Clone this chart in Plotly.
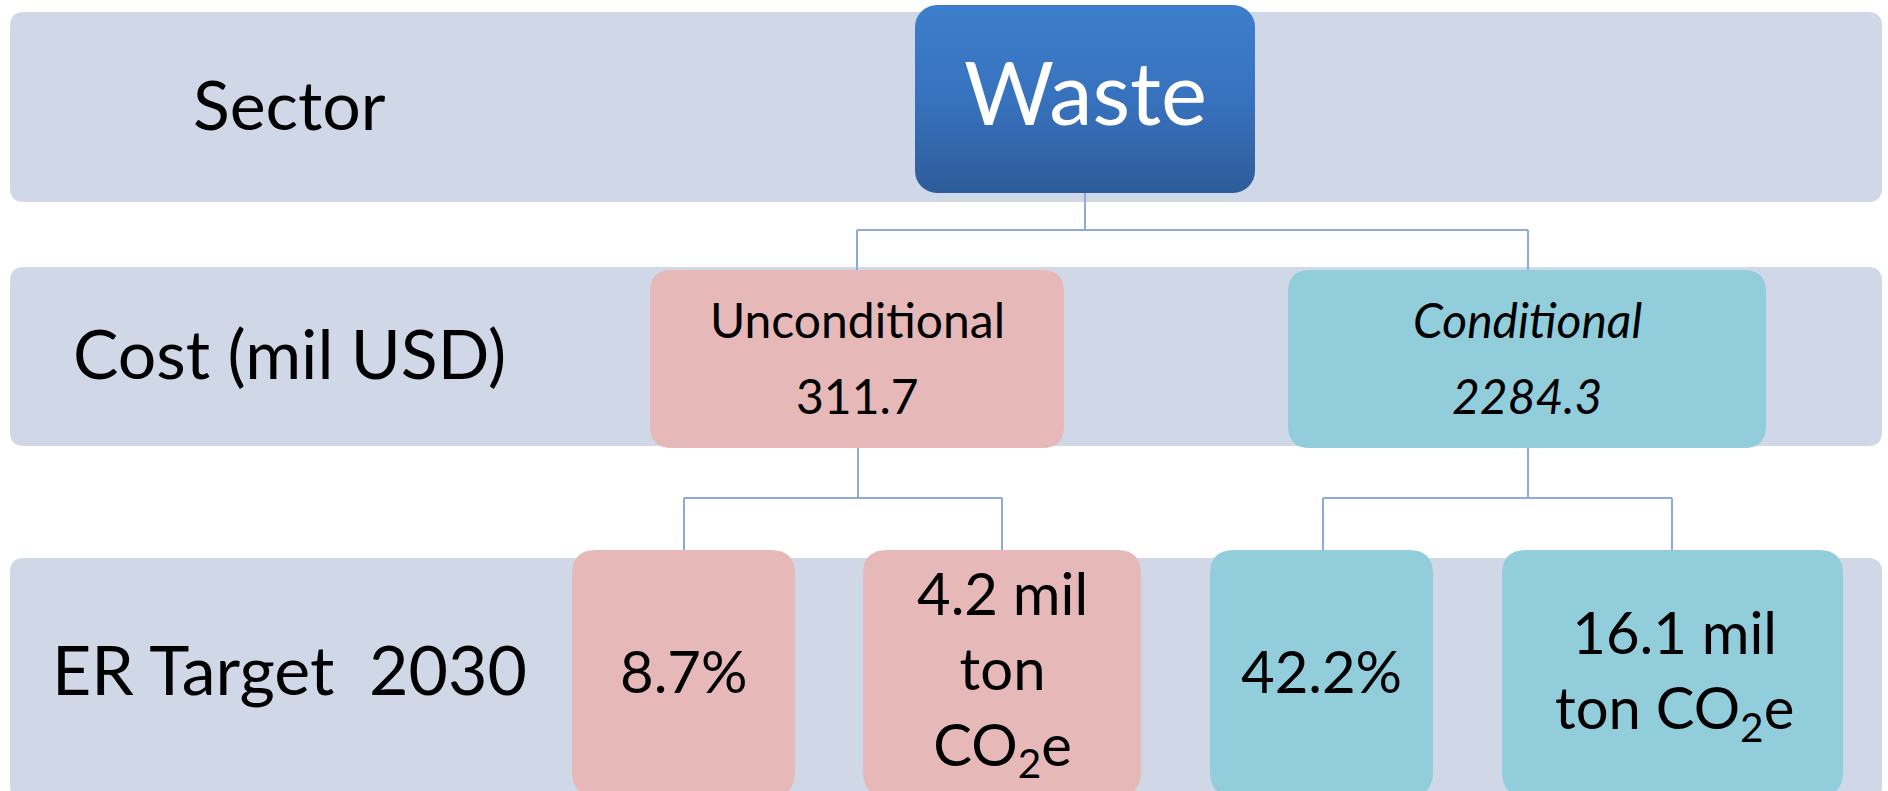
import plotly.graph_objects as go
import base64

# ---- data ----
row_labels = ["Sector", "Cost (mil USD)", "ER Target\u00a0 2030"]
sector_name = "Waste"
categories = ["Unconditional", "Conditional"]
costs = ["311.7", "2284.3"]
er_percent = ["8.7%", "42.2%"]
er_amount = ["4.2 mil<br>ton<br>CO<sub>2</sub>e", "16.1 mil<br>ton CO<sub>2</sub>e"]

W, H = 1888, 791
BAND = "#D0D8E8"
PINK = "#E6B8B7"
BLUE = "#92CDDC"
LINE = "#8EAADB"
FONT = "Lato"

def rr(x0, y0, x1, y1, r):
    return (f"M {x0+r},{y0} L {x1-r},{y0} Q {x1},{y0} {x1},{y0+r} "
            f"L {x1},{y1-r} Q {x1},{y1} {x1-r},{y1} L {x0+r},{y1} "
            f"Q {x0},{y1} {x0},{y1-r} L {x0},{y0+r} Q {x0},{y0} {x0+r},{y0} Z")

shapes = []
def box(x0, y0, x1, y1, r, color):
    shapes.append(dict(type="path", path=rr(x0, y0, x1, y1, r), xref="x", yref="y",
                       fillcolor=color, line=dict(width=0), layer="below"))

def seg(x0, y0, x1, y1):
    shapes.append(dict(type="line", x0=x0, y0=y0, x1=x1, y1=y1, xref="x", yref="y",
                       line=dict(color=LINE, width=2), layer="below"))

# row bands
box(10, 12, 1882, 202, 14, BAND)
box(10, 267, 1882, 446, 14, BAND)
box(10, 558, 1882, 800, 14, BAND)

# connectors
seg(1085, 193, 1085, 230)
seg(857, 230, 1528, 230)
seg(857, 230, 857, 270)
seg(1528, 230, 1528, 270)
seg(858, 448, 858, 498)
seg(684, 498, 1002, 498)
seg(684, 498, 684, 552)
seg(1002, 498, 1002, 552)
seg(1528, 448, 1528, 498)
seg(1323, 498, 1672, 498)
seg(1323, 498, 1323, 552)
seg(1672, 498, 1672, 552)

# category boxes
cat_boxes = [(650, 270, 1064, 448), (1288, 270, 1766, 448)]
cat_colors = [PINK, BLUE]
for (x0, y0, x1, y1), c in zip(cat_boxes, cat_colors):
    box(x0, y0, x1, y1, 22, c)

# ER boxes
er_boxes = [(572, 550, 795, 796), (863, 550, 1141, 796),
            (1210, 550, 1433, 796), (1502, 550, 1843, 796)]
er_colors = [PINK, PINK, BLUE, BLUE]
for (x0, y0, x1, y1), c in zip(er_boxes, er_colors):
    box(x0, y0, x1, y1, 24, c)

# waste box with gradient (svg image)
wx0, wy0, wx1, wy1 = 915, 5, 1255, 193
svg = (f'<svg xmlns="http://www.w3.org/2000/svg" width="{wx1-wx0}" height="{wy1-wy0}" '
       f'viewBox="0 0 {wx1-wx0} {wy1-wy0}">'
       '<defs><linearGradient id="g" x1="0" y1="0" x2="0" y2="1">'
       '<stop offset="0" stop-color="#3C7ECB"/><stop offset="0.5" stop-color="#3872BE"/>'
       '<stop offset="1" stop-color="#2D5C99"/></linearGradient></defs>'
       f'<rect x="0" y="0" width="{wx1-wx0}" height="{wy1-wy0}" rx="22" ry="22" fill="url(#g)"/></svg>')
src = "data:image/svg+xml;base64," + base64.b64encode(svg.encode()).decode()
images = [dict(source=src, xref="x", yref="y", x=wx0, y=wy0, sizex=wx1-wx0, sizey=wy1-wy0,
               xanchor="left", yanchor="top", sizing="stretch", layer="above")]

annotations = []
def txt(x, y, t, size, color="black"):
    annotations.append(dict(x=x, y=y, xref="x", yref="y", text=t, showarrow=False,
                            xanchor="center", yanchor="middle",
                            font=dict(family=FONT, size=size, color=color)))

# row labels
for lab, y in zip(row_labels, [103, 352, 668]):
    txt(289, y, lab, 68)

txt(1085, 91, sector_name, 87, "white")

# categories + costs
for i, ((x0, y0, x1, y1), cat, cost) in enumerate(zip(cat_boxes, categories, costs)):
    cx = (x0 + x1) / 2
    if i == 1:
        cat_t, cost_t = f"<i>{cat}</i>", f"<i>{cost}</i>"
    else:
        cat_t, cost_t = cat, cost
    txt(cx, 319, cat_t, 48)
    txt(cx, 395, cost_t, 48)

# ER targets
pct_boxes = [er_boxes[0], er_boxes[2]]
amt_boxes = [er_boxes[1], er_boxes[3]]
for (x0, y0, x1, y1), p in zip(pct_boxes, er_percent):
    txt((x0 + x1) / 2, 670, p, 58)
for (x0, y0, x1, y1), a, yc in zip(amt_boxes, er_amount, [672, 674]):
    txt((x0 + x1) / 2 + (0 if yc == 672 else 2), yc, a, 58)

fig = go.Figure()
fig.add_trace(go.Scatter(x=[0, W], y=[0, H], mode="markers", marker=dict(opacity=0),
                         hoverinfo="skip", showlegend=False))
fig.update_layout(
    width=W, height=H, margin=dict(l=0, r=0, t=0, b=0),
    paper_bgcolor="white", plot_bgcolor="white",
    xaxis=dict(range=[0, W], visible=False, fixedrange=True),
    yaxis=dict(range=[H, 0], visible=False, fixedrange=True),
    shapes=shapes, annotations=annotations, images=images,
    showlegend=False,
)
fig.write_html("out.html", config={"displayModeBar": False},
               post_script="document.body.style.margin='0';document.body.style.overflow='hidden';")
